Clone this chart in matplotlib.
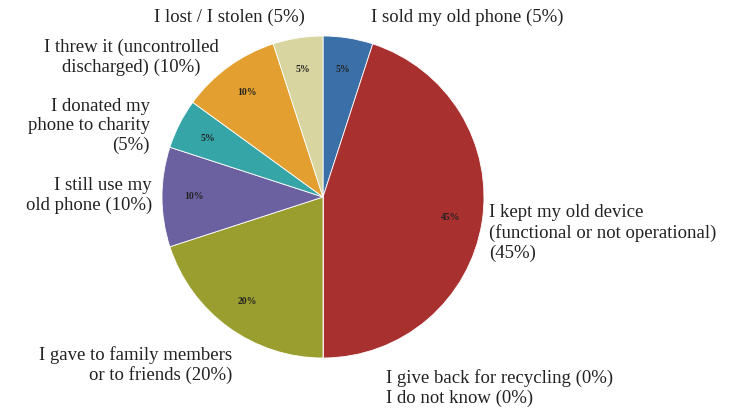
import matplotlib
matplotlib.use("Agg")
import matplotlib.pyplot as plt
import numpy as np

# ── Data ─────────────────────────────────────────────────────────────────────
labels = [
    "I sold my old phone (5%)",
    "I kept my old device\n(functional or not operational)\n(45%)",
    "I give back for recycling (0%)",
    "I do not know (0%)",
    "I gave to family members\nor to friends (20%)",
    "I still use my\nold phone (10%)",
    "I donated my\nphone to charity\n(5%)",
    "I threw it (uncontrolled\ndischarged) (10%)",
    "I lost / I stolen (5%)",
]
values = [5, 45, 0, 0, 20, 10, 5, 10, 5]
colors = ["#3a6fa8", "#a8302f", "#5b8a3a", "#7f7f7f", "#9a9e2e",
          "#6b61a0", "#35a5a8", "#e3a030", "#d9d5a0"]

# label placement (pie units, radius = 1) and alignment
label_pos = [(0.30, 1.118), (1.03, -0.224), (0.39, -1.124), (0.39, -1.248),
             (-0.565, -1.043), (-1.062, 0.012), (-1.075, 0.441),
             (-1.193, 0.866), (-0.112, 1.118)]
label_ha = ["left", "left", "left", "left", "right", "right", "right",
            "center", "right"]

# ── Plot ─────────────────────────────────────────────────────────────────────
plt.rcParams["font.family"] = ["Liberation Serif", "DejaVu Serif"]

fig = plt.figure(figsize=(7.48, 4.08), dpi=100)
ax = fig.add_axes([162 / 748, 50 / 408, 322 / 748, 322 / 408])

wedges, _ = ax.pie(values, colors=colors, startangle=90, counterclock=False,
                   radius=1, wedgeprops=dict(linewidth=0.6, edgecolor="white"))

# percentage inside each non-empty slice
total = sum(values)
for w, v in zip(wedges, values):
    if v == 0:
        continue
    ang = np.deg2rad((w.theta1 + w.theta2) / 2)
    ax.text(0.8 * np.cos(ang), 0.8 * np.sin(ang), f"{v / total * 100:.0f}%",
            ha="center", va="center", fontsize=7, fontweight="bold",
            color="#222222")

for txt, (x, y), ha in zip(labels, label_pos, label_ha):
    ax.text(x, y, txt, ha=ha, va="center", multialignment=ha,
            fontsize=13.5, linespacing=1.2, color="#222222")

ax.set_xlim(-1, 1)
ax.set_ylim(-1, 1)
ax.set_aspect("equal")
ax.axis("off")

fig.savefig("out.png", dpi=100)
